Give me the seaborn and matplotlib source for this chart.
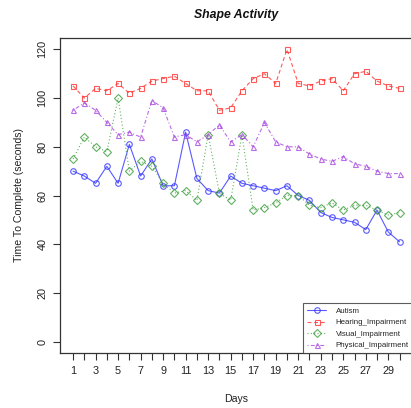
import matplotlib
matplotlib.use("Agg")
import matplotlib.pyplot as plt
import numpy as np
import pandas as pd
import seaborn as sns

days = list(range(1, 31))
autism = [70, 68, 65, 72, 65, 81, 68, 75, 64, 64, 86, 67, 62, 61, 68,
          65, 64, 63, 62, 64, 60, 58, 53, 51, 50, 49, 46, 54, 45, 41]
hearing = [105, 100, 104, 103, 106, 102, 104, 107, 108, 109, 106, 103, 103, 95, 96,
           103, 108, 110, 106, 120, 106, 105, 107, 108, 103, 110, 111, 107, 105, 104]
visual = [75, 84, 80, 78, 100, 70, 74, 72, 65, 61, 62, 58, 85, 61, 58,
          85, 54, 55, 57, 60, 60, 56, 55, 57, 54, 56, 56, 54, 52, 53]
physical = [95, 98, 95, 90, 85, 86, 84, 99, 96, 84, 85, 82, 85, 89, 82,
            85, 80, 90, 82, 80, 80, 77, 75, 74, 76, 73, 72, 70, 69, 69]

groups = ["Autism", "Hearing_Impairment", "Visual_Impairment", "Physical_Impairment"]
series = [autism, hearing, visual, physical]

df = pd.DataFrame({
    "Day": np.tile(days, len(groups)),
    "Time": np.concatenate(series),
    "Group": np.repeat(groups, len(days)),
})

sns.set_theme(style="white")
plt.rcParams["font.family"] = ["Liberation Sans", "DejaVu Sans"]

colors = {"Autism": "#3030ff", "Hearing_Impairment": "#ff3030",
          "Visual_Impairment": "#3a9e3a", "Physical_Impairment": "#a848e0"}
markers = {"Autism": "o", "Hearing_Impairment": "s",
           "Visual_Impairment": "D", "Physical_Impairment": "^"}
dashes = {"Autism": "", "Hearing_Impairment": (3.5, 2.5),
          "Visual_Impairment": (1, 2), "Physical_Impairment": (1, 2, 3.5, 2)}

fig = plt.figure(figsize=(4.11, 4.08), dpi=100)
ax = fig.add_axes([60 / 411, (408 - 353.3) / 408, (412.6 - 60) / 411, (353.3 - 37.7) / 408])

sns.lineplot(data=df, x="Day", y="Time", hue="Group", style="Group",
             hue_order=groups, style_order=groups, palette=colors,
             markers=markers, dashes=dashes, linewidth=0.8, markersize=4,
             legend=False, ax=ax)

for line, g in zip(ax.lines, groups):
    line.set_markeredgecolor(colors[g])
    line.set_markerfacecolor("none")
    line.set_markeredgewidth(0.8)
    line.set_alpha(0.8)
    if g == "Visual_Impairment" or g == "Hearing_Impairment" or g == "Physical_Impairment":
        line.set_markersize(3.6)

ax.set_xlim(1 - 0.04 * 29, 30 + 0.04 * 29)
ax.set_ylim(-4.8, 124.8)

ax.set_xticks(days)
ax.set_xticklabels([str(d) if d % 2 == 1 else "" for d in days])
ax.set_yticks(range(0, 121, 20))
ax.set_yticklabels([str(v) for v in range(0, 121, 20)], rotation=90, va="center")
ax.tick_params(axis="both", direction="out", length=5, width=0.8, color="#333333",
               labelsize=7.8, labelcolor="#222222", bottom=True, left=True)
ax.tick_params(axis="x", pad=4)
ax.tick_params(axis="y", pad=4)

for s in ax.spines.values():
    s.set_color("#333333")
    s.set_linewidth(0.9)

ax.set_xlabel("Days", fontsize=7.6, color="#222222", labelpad=13)
ax.set_ylabel("Time To Complete (seconds)", fontsize=7.6, color="#222222", labelpad=10)
ax.set_title("Shape Activity", fontsize=8.8, fontweight="bold", fontstyle="italic",
             color="#111111", pad=14)

handles = list(ax.lines[:4])
leg = ax.legend(handles, groups, loc="lower right", bbox_to_anchor=(1.0, 0.0),
                fontsize=5.7, frameon=True, fancybox=False, borderaxespad=0,
                handlelength=2.4, handletextpad=1.2, labelspacing=0.5,
                borderpad=0.5, numpoints=1)
leg.get_frame().set_edgecolor("#333333")
leg.get_frame().set_linewidth(0.8)

fig.savefig("out.png", dpi=100)
